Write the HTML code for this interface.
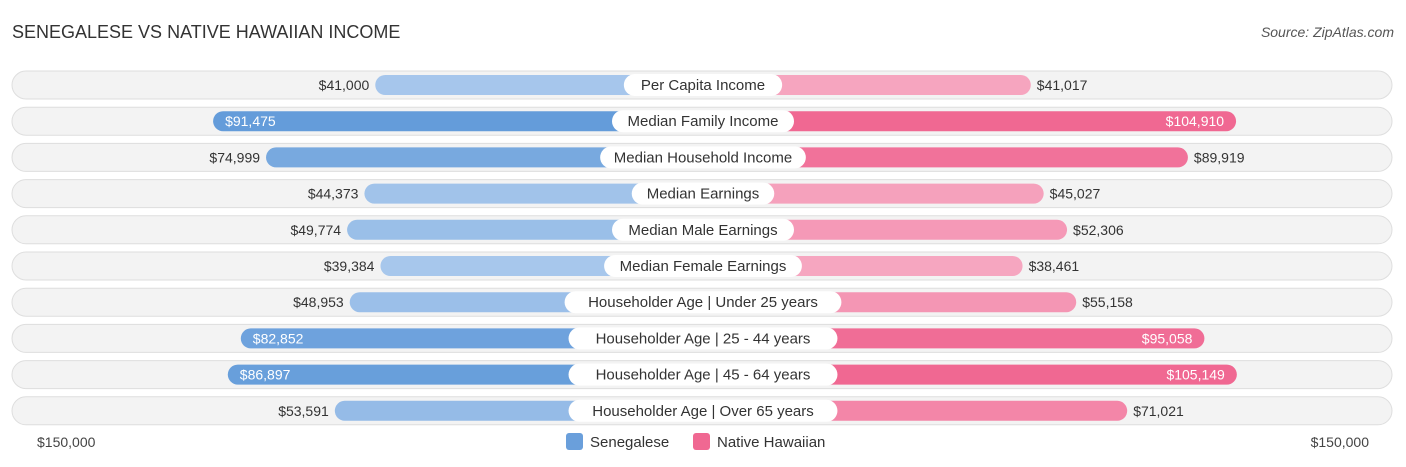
<!DOCTYPE html>
<html><head><meta charset="utf-8"><style>
body{margin:0;width:1406px;height:467px;background:#fff;font-family:"Liberation Sans",sans-serif;overflow:hidden;position:relative}
.t{position:absolute;left:12px;top:22px;font-size:18px;color:#333}
.s{position:absolute;right:12px;top:24px;font-size:14px;color:#555;font-style:italic}
</style></head><body>
<div class="t">SENEGALESE VS NATIVE HAWAIIAN INCOME</div>
<div class="s">Source: ZipAtlas.com</div>
<svg id="c" width="1406" height="467" style="position:absolute;left:0;top:0"></svg>
<script>
const categories=["Per Capita Income","Median Family Income","Median Household Income","Median Earnings","Median Male Earnings","Median Female Earnings","Householder Age | Under 25 years","Householder Age | 25 - 44 years","Householder Age | 45 - 64 years","Householder Age | Over 65 years"];
const senegalese=[41000,91475,74999,44373,49774,39384,48953,82852,86897,53591];
const hawaiian=[41017,104910,89919,45027,52306,38461,55158,95058,105149,71021];
const axisLabel="$150,000";
const NS="http://www.w3.org/2000/svg",svg=document.getElementById('c');
const cx=703,off=196,k=0.003213;
const xs=v=>off+v*k;
function mk(t,a,p){const e=document.createElementNS(NS,t);for(const n in a)e.setAttribute(n,a[n]);(p||svg).appendChild(e);return e;}
function mix(a,b,t){return 'rgb('+a.map((x,i)=>Math.round(x+(b[i]-x)*t)).join(',')+')';}
const fmt=v=>'$'+v.toLocaleString('en-US');
categories.forEach((c,i)=>{
 const y=85+i*36.2;
 const g=mk('g',{});
 
 
 const bg=mk('rect',{x:12,y:y-14,width:1380,height:28,rx:14,fill:'#f3f3f3',stroke:'#dedede'},g);
 
 
 const sv=senegalese[i],hv=hawaiian[i];
 const ts=Math.min(1,Math.max(0,(sv-40000)/50000)),th=Math.min(1,Math.max(0,(hv-40000)/60000));
 const lw=xs(sv),rw=xs(hv);
 const b1=mk('rect',{x:cx-lw,y:y-10,width:lw,height:20,rx:10,fill:mix([167,199,236],[100,156,218],ts)},g);
 
 
 const b2=mk('rect',{x:cx,y:y-10,width:rw,height:20,rx:10,fill:mix([246,166,192],[240,104,146],th)},g);
 
 
 const inS=sv>80000,inH=hv>90000;
 const l1=mk('text',{x:inS?cx-lw+12:cx-lw-6,y:y+5,'font-size':14,'text-anchor':inS?'start':'end',fill:inS?'#fff':'#333'},g);
 l1.textContent=fmt(sv);
 
 
 const l2=mk('text',{x:inH?cx+rw-12:cx+rw+6,y:y+5,'font-size':14,'text-anchor':inH?'end':'start',fill:inH?'#fff':'#333'},g);
 l2.textContent=fmt(hv);
 
 
 const tw=c.length*7.9+24;
 const pill=mk('rect',{x:cx-tw/2,y:y-11,width:tw,height:22,rx:11,fill:'#fff'},g);
 
 
 const lt=mk('text',{x:cx,y:y+5,'font-size':15,'text-anchor':'middle',fill:'#333'},g);
 lt.textContent=c;
 
 
});
const a1=mk('text',{x:37,y:447,'font-size':14,fill:'#444'});a1.textContent=axisLabel;


const a2=mk('text',{x:1369,y:447,'font-size':14,fill:'#444','text-anchor':'end'});a2.textContent=axisLabel;


[[566,'#6a9fdb','Senegalese'],[693,'#f06892','Native Hawaiian']].forEach(([x,col,n])=>{
 const r=mk('rect',{x:x,y:433,width:17,height:17,rx:3,fill:col});
 
 
 const t=mk('text',{x:x+24,y:447,'font-size':15,fill:'#333'});t.textContent=n;
 
 
});
</script>
</body></html>
